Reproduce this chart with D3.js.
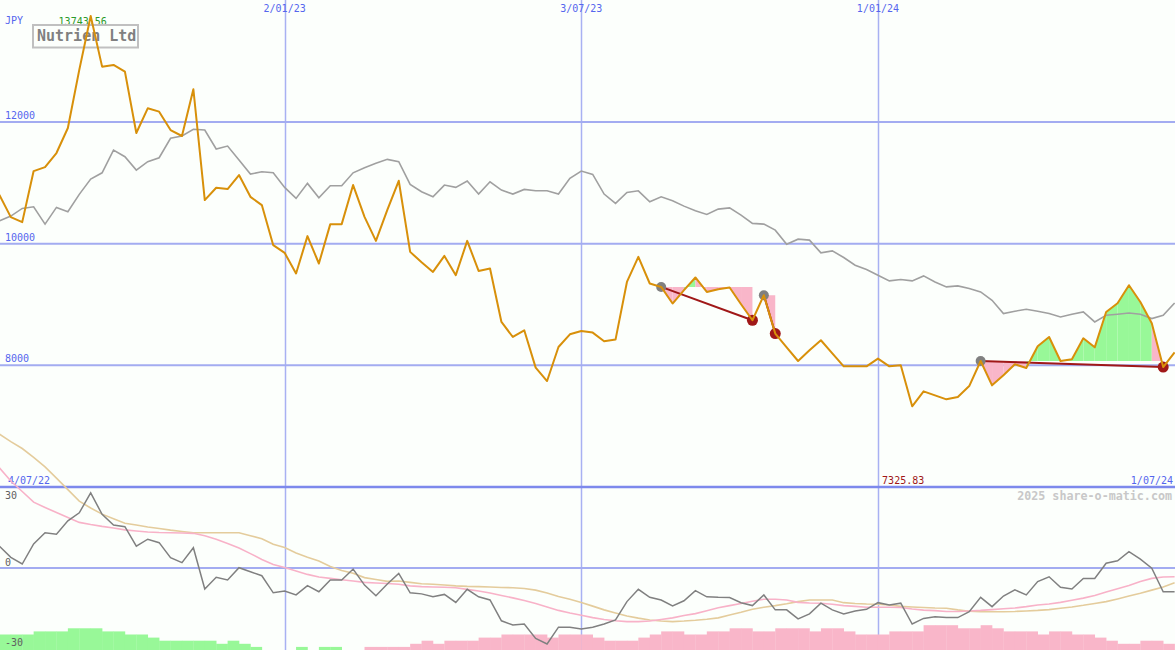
<!DOCTYPE html>
<html>
<head>
<meta charset="utf-8">
<script src="https://cdn.jsdelivr.net/npm/d3@7"></script>
<style>
  html, body { margin: 0; padding: 0; background: #fcfffc; }
  svg { display: block; }
  text { font-family: "DejaVu Sans Mono", "Liberation Mono", monospace; }
</style>
</head>
<body>
<svg id="chart" width="1175" height="650"></svg>
<script>
// ---------- data ----------
const startDate = new Date(2022, 6, 4);           // first weekly point (4/07/22)
const endDate = new Date(2024, 6, 1);             // last weekly point (1/07/24)

// Nutrien Ltd weekly close, JPY
const price = [10960, 10800, 10436, 10354, 11193, 11259, 11490, 11901, 12856, 13743.56,
  12910, 12938, 12828, 11819, 12225, 12170, 11868, 11770, 12538, 10716,
  10919, 10897, 11128, 10770, 10634, 9975, 9849, 9510, 10124, 9674,
  10321, 10321, 10963, 10441, 10046, 10556, 11034, 9865, 9696, 9536,
  9799, 9482, 10046, 9552, 9592, 8713, 8466, 8576, 7962, 7742,
  8301, 8510, 8565, 8538, 8395, 8423, 9371, 9783, 9345, 9289,
  9016, 9235, 9444, 9207, 9251, 9279, 9004, 8741, 9152, 8522,
  8296, 8071, 8247, 8412, 8198, 7984, 7984, 7984, 8111, 7984,
  8000, 7325.83, 7572, 7506, 7441, 7478, 7659, 8071, 7671, 7836,
  8017, 7956, 8313, 8466, 8071, 8099, 8445, 8296, 8877, 9021,
  9317, 9042, 8692, 7972, 8214];

// comparison index (grey line), scaled to JPY axis
const index = [10354, 10375, 10453, 10579, 10606, 10321, 10596, 10524, 10810, 11062,
  11165, 11539, 11429, 11210, 11347, 11412, 11732, 11770, 11880, 11868,
  11556, 11605, 11375, 11144, 11182, 11165, 10925, 10744, 10991, 10754,
  10951, 10951, 11165, 11248, 11320, 11386, 11347, 10975, 10853, 10770,
  10963, 10925, 11029, 10815, 11017, 10881, 10815, 10892, 10869, 10869,
  10815, 11073, 11193, 11139, 10815, 10662, 10843, 10869, 10688, 10770,
  10705, 10617, 10540, 10481, 10568, 10589, 10469, 10333, 10321, 10222,
  9992, 10074, 10058, 9849, 9882, 9773, 9646, 9575, 9482, 9388,
  9411, 9388, 9470, 9371, 9289, 9306, 9263, 9207, 9070, 8851,
  8889, 8922, 8889, 8851, 8795, 8840, 8877, 8713, 8823, 8840,
  8861, 8840, 8769, 8823, 9026];

// lower panel: oscillator (dark grey)
const osc = [7.5, 8.2, 4.0, 1.5, 9.0, 13.2, 12.7, 17.7, 20.7, 28.2,
  20.1, 16.1, 15.5, 8.2, 10.8, 9.5, 3.9, 2.0, 7.6, -7.9,
  -3.5, -4.5, 0.1, -1.4, -2.9, -9.3, -8.6, -10.1, -6.6, -8.9,
  -4.5, -4.5, -0.4, -6.4, -10.4, -6.0, -2.0, -9.3, -9.7, -10.8,
  -9.9, -12.9, -8.0, -10.8, -12.0, -19.8, -21.4, -21.0, -26.4, -28.5,
  -22.2, -22.2, -22.9, -22.2, -21.0, -19.5, -12.6, -8.0, -11.0, -12.0,
  -14.2, -12.3, -8.5, -10.8, -11.0, -11.1, -13.0, -14.1, -10.1, -15.7,
  -15.7, -19.1, -17.2, -13.2, -15.7, -17.2, -16.1, -15.5, -13.0, -13.9,
  -13.2, -21.0, -18.9, -18.3, -18.6, -18.6, -16.4, -11.0, -14.5, -10.5,
  -8.2, -10.1, -5.1, -3.3, -7.2, -7.9, -3.9, -3.9, 1.8, 2.7,
  6.1, 3.3, -0.1, -8.9, -8.9];

// lower panel: fast average (pink)
const avgFast = [42.4, 37.6, 32.6, 28.7, 24.7, 22.7, 20.8, 18.9, 17.1, 16.3,
  15.6, 15.0, 14.3, 13.9, 13.5, 13.3, 13.2, 13.1, 13.0, 12.1,
  10.8, 9.2, 7.5, 5.4, 3.2, 1.3, 0.15, -1.1, -2.4, -3.4,
  -3.9, -4.4, -4.9, -5.4, -5.6, -5.8, -6.1, -6.7, -7.0, -7.1,
  -7.2, -7.4, -8.0, -8.6, -9.4, -10.3, -11.2, -12.2, -13.3, -14.6,
  -15.9, -16.9, -17.7, -18.6, -19.3, -19.8, -20.1, -20.1, -19.9, -19.3,
  -18.7, -17.8, -17.1, -16.0, -14.9, -14.1, -13.3, -12.5, -11.7, -11.7,
  -12.0, -12.9, -13.1, -13.2, -13.6, -14.1, -14.4, -14.7, -14.7, -14.7,
  -14.8, -15.4, -15.8, -16.0, -16.3, -16.3, -16.1, -15.9, -15.6, -15.3,
  -15.0, -14.5, -13.9, -13.5, -12.9, -12.1, -11.3, -10.3, -9.0, -7.8,
  -6.6, -5.1, -3.9, -3.4, -3.3];

// lower panel: slow average (tan)
const avgSlow = [52.9, 50.2, 47.4, 44.8, 41.5, 37.9, 33.7, 29.4, 25.1, 22.5,
  20.2, 18.5, 16.8, 16.1, 15.4, 14.8, 14.2, 13.7, 13.2, 13.2,
  13.2, 13.2, 13.2, 12.1, 11.0, 8.9, 7.7, 5.6, 4.0, 2.6,
  0.6, -0.9, -2.0, -3.6, -4.3, -5.0, -4.9, -5.4, -5.9, -6.1,
  -6.4, -6.7, -6.9, -7.0, -7.1, -7.3, -7.4, -7.7, -8.3, -9.4,
  -10.7, -11.7, -12.9, -14.3, -15.7, -16.9, -18.0, -18.8, -19.5, -19.9,
  -20.1, -19.9, -19.6, -19.2, -18.7, -17.6, -16.6, -15.5, -14.7, -14.1,
  -13.4, -12.6, -12.0, -12.0, -12.0, -13.0, -13.3, -13.5, -13.6, -13.9,
  -14.4, -14.6, -14.8, -15.0, -15.1, -15.7, -16.2, -16.4, -16.4, -16.4,
  -16.3, -16.1, -15.9, -15.6, -15.1, -14.6, -14.0, -13.3, -12.6, -11.6,
  -10.5, -9.5, -8.3, -7.1, -5.5];

// lower panel: histogram bars (positive green, negative pink)
const bars = [5, 5, 5, 5, 5, 6, 6, 6, 7, 7,
  7, 6, 6, 5, 5, 4, 3, 3, 3, 3,
  3, 2, 3, 2, 1, 0, 0, 0, 1, 0,
  1, 1, 0, 0, -1, -1, -1, -1, -2, -3,
  -2, -3, -3, -3, -4, -4, -5, -5, -5, -5,
  -4, -5, -5, -5, -4, -3, -3, -3, -4, -5,
  -6, -6, -5, -5, -6, -6, -7, -7, -6, -6,
  -7, -7, -7, -6, -7, -7, -6, -5, -5, -5,
  -6, -6, -6, -8, -8, -8, -7, -7, -8, -7,
  -6, -6, -6, -5, -6, -6, -5, -5, -4, -3,
  -2, -2, -3, -3, -2];

// trend patterns (start / end week index)
const patternStart = [59, 68, 87];
const patternEnd = [67, 69, 103];

// axis / labels
const priceTicks = [8000, 10000, 12000];
const oscTicks = [30, 0, -30];
const gridDateLabels = ["2/01/23", "3/07/23", "1/01/24"];
const gridDates = [new Date(2023, 0, 2), new Date(2023, 6, 3), new Date(2024, 0, 1)];
const startLabel = "4/07/22";
const endLabel = "1/07/24";
const currency = "JPY";
const title = "Nutrien Ltd";
const watermark = "2025 share-o-matic.com";

// ---------- layout ----------
const W = 1175, H = 650;
const dates = price.map((_, i) => d3.timeDay.offset(startDate, 7 * i));

const x = d3.scaleTime().domain([startDate, endDate]).range([-12, 1174.6]);
const yP = d3.scaleLinear().domain([6000, 12000]).range([487, 122]);
const yO = d3.scaleLinear().domain([-30, 30]).range([648, 488]);
const barH = d3.scaleLinear().domain([0, 8]).range([0, 24.8]);
const bottom = 650;

const C = {
  bg: "#fcfffc",
  grid: "#a3acf1",
  gridDark: "#7d89ec",
  vgrid: "#a8b1f2",
  axisText: "#5566ee",
  price: "#d8900a",
  index: "#a0a0a0",
  osc: "#808080",
  fast: "#f8b2c8",
  slow: "#e4cc9c",
  green: "#98f898",
  pink: "#f9b6c9",
  trend: "#a01818",
  startDot: "#808080",
  endDot: "#a01818"
};

const svg = d3.select("#chart");
svg.append("rect").attr("width", W).attr("height", H).attr("fill", C.bg);

// ---------- grid ----------
const g = svg.append("g");
g.selectAll(".vg").data(gridDates).join("line")
  .attr("x1", d => Math.round(x(d)) + 0.5).attr("x2", d => Math.round(x(d)) + 0.5)
  .attr("y1", 0).attr("y2", H)
  .attr("stroke", C.vgrid).attr("stroke-width", 1.5);

g.selectAll(".hg").data(priceTicks).join("line")
  .attr("x1", 0).attr("x2", W)
  .attr("y1", d => yP(d)).attr("y2", d => yP(d))
  .attr("stroke", C.grid).attr("stroke-width", 2);

// panel divider (bottom of price panel)
g.append("line").attr("x1", 0).attr("x2", W)
  .attr("y1", yP(6000)).attr("y2", yP(6000))
  .attr("stroke", C.gridDark).attr("stroke-width", 2.5);

// oscillator zero line
g.append("line").attr("x1", 0).attr("x2", W)
  .attr("y1", yO(0)).attr("y2", yO(0))
  .attr("stroke", C.grid).attr("stroke-width", 2);

// ---------- texts (under lines) ----------
const T = svg.append("g");
T.selectAll(".dl").data(gridDates).join("text")
  .attr("x", d => x(d)).attr("y", 12)
  .attr("text-anchor", "middle").attr("font-size", 10).attr("fill", C.axisText)
  .text((d, i) => gridDateLabels[i]);

T.append("text").attr("x", 5).attr("y", 24).attr("font-size", 10)
  .attr("fill", C.axisText).text(currency);

T.selectAll(".pl").data(priceTicks).join("text")
  .attr("x", 5).attr("y", d => yP(d) - 3).attr("font-size", 10)
  .attr("fill", C.axisText).text(d => d);

T.append("text").attr("x", 8).attr("y", 484).attr("font-size", 10)
  .attr("fill", C.axisText).text(startLabel);
T.append("text").attr("x", 1173).attr("y", 484).attr("font-size", 10)
  .attr("text-anchor", "end").attr("fill", C.axisText).text(endLabel);

T.append("text").attr("x", 1172).attr("y", 500).attr("font-size", 11.7)
  .attr("font-weight", "bold").attr("text-anchor", "end")
  .attr("fill", "#c8c8c8").text(watermark);

// max / min labels
const iMax = d3.maxIndex(price), iMin = d3.minIndex(price);
T.append("text").attr("x", x(dates[iMax]) - 8).attr("y", 25)
  .attr("text-anchor", "middle").attr("font-size", 10).attr("fill", "#2a9a2a")
  .text(price[iMax].toFixed(2));
T.append("text").attr("x", x(dates[iMin]) - 9).attr("y", 484)
  .attr("text-anchor", "middle").attr("font-size", 10).attr("fill", "#a01818")
  .text(price[iMin].toFixed(2));

// title box
T.append("rect").attr("x", 33).attr("y", 25).attr("width", 105).attr("height", 22.5)
  .attr("fill", "none").attr("stroke", "#c0c0c0").attr("stroke-width", 2);
T.append("text").attr("x", 37).attr("y", 41).attr("font-size", 15)
  .attr("font-weight", "bold").attr("fill", "#808080").text(title);

// ---------- pattern fills ----------
const P = svg.append("g");
patternStart.forEach((s, p) => {
  const e = patternEnd[p];
  const base = price[s];
  for (let k = s; k < e; k++) {
    const seg = [k, k + 1];
    const area = d3.area()
      .x(i => x(dates[i]))
      .y0(yP(base))
      .y1(i => yP(price[i]));
    P.append("path").attr("d", area(seg))
      .attr("fill", price[k + 1] >= base ? C.green : C.pink);
  }
});

// ---------- lower panel bars ----------
const B = svg.append("g");
B.selectAll("rect").data(bars.map((v, i) => ({ v, i })).filter(d => d.v !== 0)).join("rect")
  .attr("x", d => x(d3.timeDay.offset(dates[d.i], -7)))
  .attr("width", d => x(dates[d.i]) - x(d3.timeDay.offset(dates[d.i], -7)) + 0.3)
  .attr("y", d => bottom - barH(Math.abs(d.v)))
  .attr("height", d => barH(Math.abs(d.v)))
  .attr("fill", d => d.v > 0 ? C.green : C.pink);

// oscillator axis labels (over the bars)
svg.append("g").selectAll("text").data(oscTicks).join("text")
  .attr("x", 5).attr("y", d => Math.max(yO(d) - 2, 499)).attr("font-size", 10)
  .attr("fill", "#606060").text(d => d);

// ---------- lines ----------
const lineOf = (arr, y) => d3.line().x((d, i) => x(dates[i])).y(d => y(d))(arr);

svg.append("path").attr("d", lineOf(avgSlow, yO)).attr("fill", "none")
  .attr("stroke", C.slow).attr("stroke-width", 1.6);
svg.append("path").attr("d", lineOf(avgFast, yO)).attr("fill", "none")
  .attr("stroke", C.fast).attr("stroke-width", 1.6);
svg.append("path").attr("d", lineOf(osc, yO)).attr("fill", "none")
  .attr("stroke", C.osc).attr("stroke-width", 1.5);

svg.append("path").attr("d", lineOf(index, yP)).attr("fill", "none")
  .attr("stroke", C.index).attr("stroke-width", 1.6);

// trend lines + markers
const M = svg.append("g");
patternStart.forEach((s, p) => {
  const e = patternEnd[p];
  M.append("line")
    .attr("x1", x(dates[s])).attr("y1", yP(price[s]))
    .attr("x2", x(dates[e])).attr("y2", yP(price[e]))
    .attr("stroke", C.trend).attr("stroke-width", 2);
  M.append("circle").attr("cx", x(dates[s])).attr("cy", yP(price[s])).attr("r", 5)
    .attr("fill", C.startDot);
  M.append("circle").attr("cx", x(dates[e])).attr("cy", yP(price[e])).attr("r", 5.5)
    .attr("fill", C.endDot);
});

svg.append("path").attr("d", lineOf(price, yP)).attr("fill", "none")
  .attr("stroke", C.price).attr("stroke-width", 2).attr("stroke-linejoin", "round");
</script>
</body>
</html>
